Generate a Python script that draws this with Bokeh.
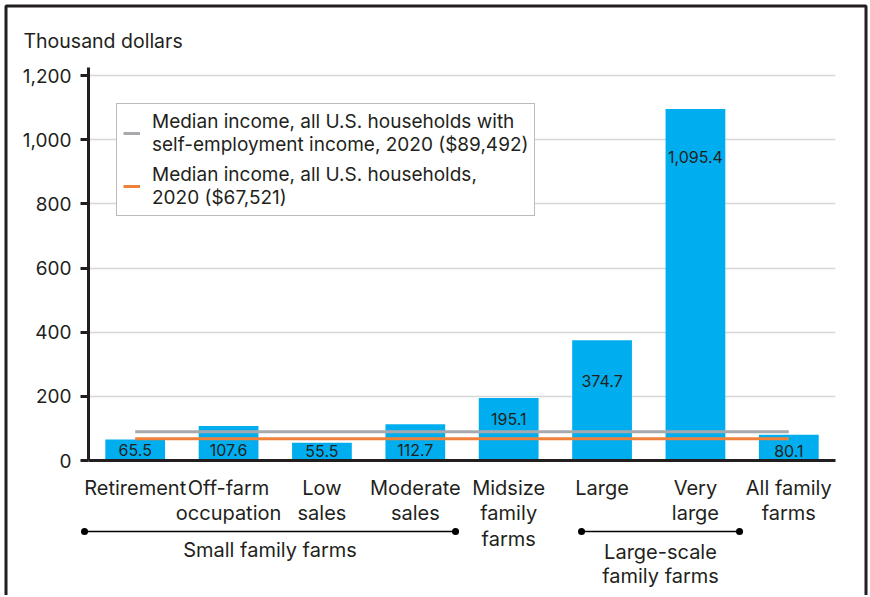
from bokeh.plotting import figure
from bokeh.models import Range1d, FixedTicker, NumeralTickFormatter, Legend, LegendItem
from bokeh.embed import file_html
from bokeh.resources import INLINE
from bokeh.core.properties import value

# ---------------- data ----------------
categories = ["Retirement", "Off-farm\noccupation", "Low\nsales", "Moderate\nsales",
              "Midsize\nfamily\nfarms", "Large", "Very\nlarge", "All family\nfarms"]
income = [65.5, 107.6, 55.5, 112.7, 195.1, 374.7, 1095.4, 80.1]
value_labels = ["65.5", "107.6", "55.5", "112.7", "195.1", "374.7", "1,095.4", "80.1"]
median_self_employed = 89.492
median_all = 67.521
y_ticks = [0, 200, 400, 600, 800, 1000, 1200]
groups = ["Small family farms", "Large-scale\nfamily farms"]
legend_labels = ["Median income, all U.S. households with\nself-employment income, 2020 ($89,492)",
                 "Median income, all U.S. households,\n2020 ($67,521)"]
y_title = "Thousand dollars"

# ---------------- style / layout ----------------
FONT = "Inter"
TXT = "#231f20"
BAR = "#00aeef"
GRAY = "#a7a9ac"
ORANGE = "#f0813a"
W, H = 868, 595
FL, FR, FT, FB = 88, 835, 67, 460        # frame edges in canvas pixels
ML, MR, MT, MB = FL, W - FR, FT, H - FB
Y_END = 1225
pxu = (FB - FT) / Y_END                   # pixels per data unit
sxu = (FR - FL) / len(categories)         # pixels per category


def dx(px):  # canvas px -> x data
    return (px - FL) / sxu


def dy(py):  # canvas px -> y data
    return (FB - py) / pxu


xs = [i + 0.5 for i in range(len(categories))]
label_drop_px = [11, 24, 8, 26, 21, 41, 48, 16]
label_y = [v - d / pxu for v, d in zip(income, label_drop_px)]

p = figure(width=W, height=H, output_backend="svg", toolbar_location=None,
           x_range=Range1d(0, len(categories)), y_range=Range1d(0, Y_END),
           min_border_left=ML, min_border_right=MR, min_border_top=MT, min_border_bottom=MB)
p.outline_line_color = None
p.background_fill_color = "white"
p.border_fill_color = "white"

# grid
p.xgrid.visible = False
p.ygrid.ticker = FixedTicker(ticks=y_ticks[1:])
p.ygrid.grid_line_color = "#d6d6d6"
p.ygrid.grid_line_width = 1.3

# y axis
p.yaxis.ticker = FixedTicker(ticks=y_ticks)
p.yaxis.formatter = NumeralTickFormatter(format="0,0")
p.yaxis.axis_line_width = 3
p.yaxis.axis_line_color = TXT
p.yaxis.major_tick_line_color = TXT
p.yaxis.major_tick_line_width = 3
p.yaxis.major_tick_out = 8
p.yaxis.major_tick_in = 0
p.yaxis.minor_tick_line_color = None
p.yaxis.major_label_text_font = FONT
p.yaxis.major_label_text_font_size = "19px"
p.yaxis.major_label_text_color = TXT
p.yaxis.major_label_standoff = 9

# x axis
p.xaxis.ticker = FixedTicker(ticks=xs)
p.xaxis.major_label_overrides = {x: c for x, c in zip(xs, categories)}
p.xaxis.axis_line_width = 3
p.xaxis.axis_line_color = TXT
p.xaxis.major_tick_line_color = None
p.xaxis.minor_tick_line_color = None
p.xaxis.major_tick_out = 0
p.xaxis.major_tick_in = 0
p.xaxis.major_label_text_font = FONT
p.xaxis.major_label_text_font_size = "20px"
p.xaxis.major_label_text_color = TXT
p.xaxis.major_label_text_line_height = 1.08
p.xaxis.major_label_standoff = 15

# bars
p.vbar(x=xs, top=income, width=0.64, fill_color=BAR, line_color=None)

# reference lines
r_gray = p.line(x=[xs[0], xs[-1]], y=[median_self_employed] * 2, line_color=GRAY, line_width=3)
r_orange = p.line(x=[xs[0], xs[-1]], y=[median_all] * 2, line_color=ORANGE, line_width=3)

# value labels
p.text(x=xs, y=label_y, text=value_labels, text_align="center", text_baseline="middle",
       text_font=value(FONT), text_font_size="16px", text_color=TXT)

# legend
legend = Legend(items=[LegendItem(label=legend_labels[0], renderers=[r_gray]),
                       LegendItem(label=legend_labels[1], renderers=[r_orange])],
                location=(28, 244), border_line_color="#777777", border_line_width=1,
                background_fill_alpha=1, padding=6, spacing=7, label_standoff=12,
                glyph_width=17, label_text_font=FONT, label_text_font_size="19px",
                label_text_color=TXT, label_text_line_height=1.4, margin=0)
p.add_layout(legend)

# y title (overlay text, outside frame)
tt = p.text(x=[dx(23)], y=[dy(40)], text=[y_title], text_align="left", text_baseline="middle",
            text_font=value(FONT), text_font_size="19.5px", text_color=TXT)
tt.level = "overlay"

# group brackets
g_x0 = [dx(84), dx(581)]
g_x1 = [dx(455), dx(739)]
g_ly = dy(531)
seg = p.segment(x0=g_x0, y0=[g_ly] * 2, x1=g_x1, y1=[g_ly] * 2, line_color="black", line_width=1.5)
seg.level = "overlay"
ends = g_x0 + g_x1
dots = p.segment(x0=ends, y0=[g_ly] * 4, x1=[e + 0.0005 for e in ends], y1=[g_ly] * 4,
                 line_color="black", line_width=7, line_cap="round")
dots.level = "overlay"
gt = p.text(x=[(a + b) / 2 for a, b in zip(g_x0, g_x1)], y=[dy(549), dy(563)], text=groups,
            text_align="center", text_baseline="middle", text_font=value(FONT),
            text_font_size="20px", text_color=TXT, text_line_height=1.0)
gt.level = "overlay"

# outer border (left, top, right)
bx0, bx1 = dx(5.5), dx(865.5)
by0, by1 = dy(H + 5), dy(5.5)
bd = p.line(x=[bx0, bx0, bx1, bx1], y=[by0, by1, by1, by0], line_color=TXT, line_width=3)
bd.level = "overlay"

open("out.html", "w").write(file_html(p, INLINE))
